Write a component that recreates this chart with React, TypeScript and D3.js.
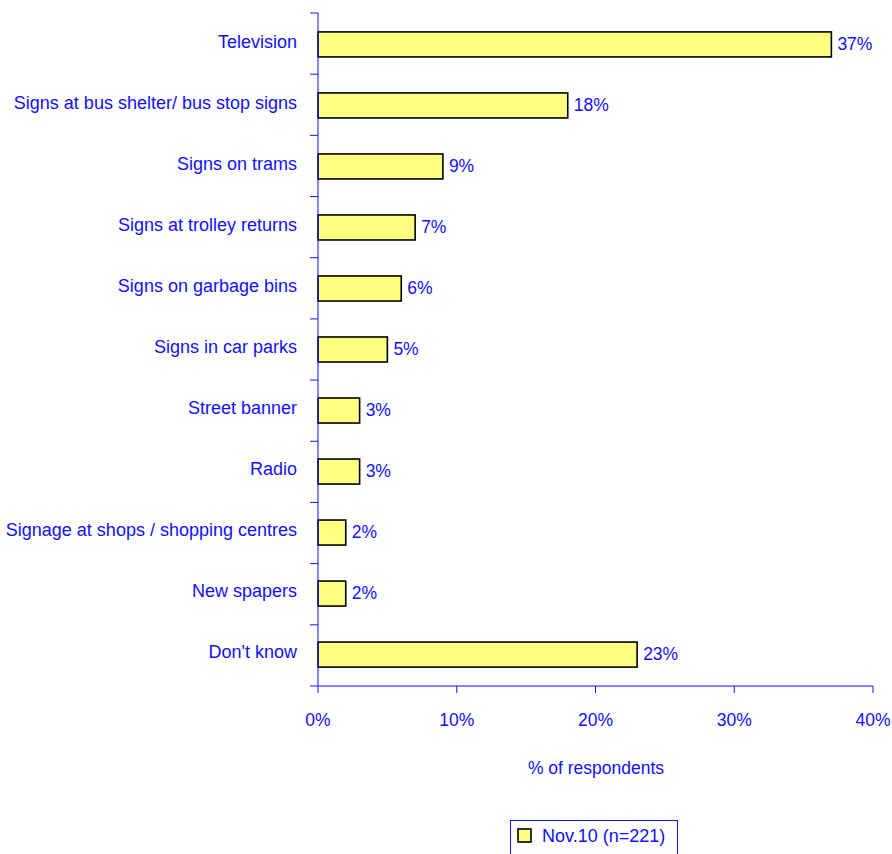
import React from "react";
import * as d3 from "d3";

const categories = [
  "Television",
  "Signs at bus shelter/ bus stop signs",
  "Signs on trams",
  "Signs at trolley  returns",
  "Signs on garbage bins",
  "Signs in car parks",
  "Street banner",
  "Radio",
  "Signage at shops / shopping centres",
  "New spapers",
  "Don't know",
];
const values = [37, 18, 9, 7, 6, 5, 3, 3, 2, 2, 23];
const xTicks = [0, 10, 20, 30, 40];
const seriesName = "Nov.10 (n=221)";
const axisTitle = "% of respondents";

const BLUE = "#1010ff";
const FONT = "'Liberation Sans', Arial, sans-serif";

export default function App() {
  const W = 892, H = 854;
  const left = 318, right = 873, top = 13, bottom = 686;
  const x = d3.scaleLinear().domain([0, 40]).range([left, right]);
  const y = d3.scaleBand<string>().domain(categories).range([top, bottom]).paddingInner(0.59).paddingOuter(0.31);
  const bandEdges = d3.range(categories.length + 1).map((i) => top + (i * (bottom - top)) / categories.length);

  return (
    <svg width={W} height={H} style={{ position: "absolute", left: 0, top: 0 }} fontFamily={FONT}>
      {categories.map((c, i) => (
        <g key={c}>
          <rect x={x(0)} y={y(c)!} width={x(values[i]) - x(0)} height={y.bandwidth()} fill="#ffff80" stroke="#000" strokeWidth={1.6} />
          <text x={x(values[i]) + 6} y={y(c)! + y.bandwidth() / 2 - 1} dy="0.35em" fontSize={17.5} fill={BLUE}>
            {values[i]}%
          </text>
          <text x={297} y={y(c)! + y.bandwidth() / 2 - 3} dy="0.35em" fontSize={18} fill={BLUE} textAnchor="end">
            {c}
          </text>
        </g>
      ))}
      <line x1={left} x2={left} y1={top} y2={bottom} stroke={BLUE} strokeWidth={1} />
      {bandEdges.map((e, i) => (
        <line key={i} x1={left - 8} x2={left} y1={e} y2={e} stroke={BLUE} strokeWidth={1} />
      ))}
      <line x1={left} x2={right} y1={bottom} y2={bottom} stroke={BLUE} strokeWidth={1} />
      {xTicks.map((t) => (
        <g key={t}>
          <line x1={x(t)} x2={x(t)} y1={bottom} y2={bottom + 7} stroke={BLUE} strokeWidth={1} />
          <text x={x(t)} y={720} dy="0.35em" fontSize={17.5} fill={BLUE} textAnchor="middle">
            {t}%
          </text>
        </g>
      ))}
      <text x={596} y={768} dy="0.35em" fontSize={17.5} fill={BLUE} textAnchor="middle">
        {axisTitle}
      </text>
      <rect x={510.5} y={820.5} width={167} height={40} fill="#fff" stroke={BLUE} strokeWidth={1} />
      <rect x={518} y={829} width={13} height={13} fill="#ffff80" stroke="#000" strokeWidth={1.6} />
      <text x={542} y={836} dy="0.35em" fontSize={18} fill={BLUE}>
        {seriesName}
      </text>
    </svg>
  );
}
